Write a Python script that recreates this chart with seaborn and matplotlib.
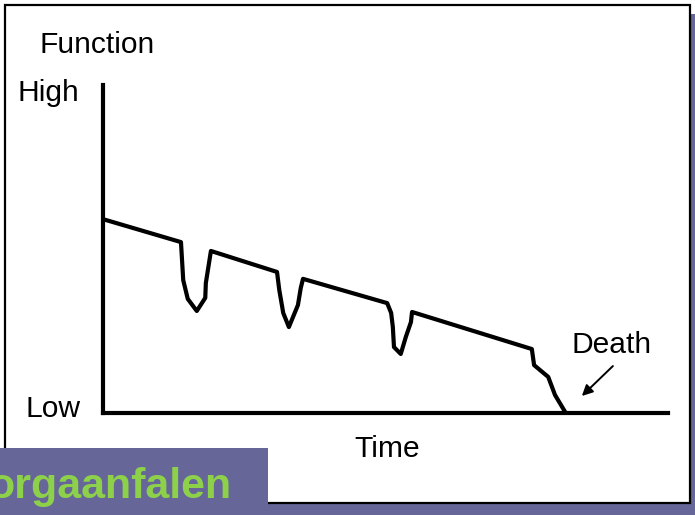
import matplotlib
matplotlib.use("Agg")
import matplotlib.pyplot as plt
import seaborn as sns
import pandas as pd
from matplotlib.patches import Rectangle

# ---- data (time, function level) ----
time = [0, 13.8, 14.2, 15.0, 16.6, 18.1, 18.2, 19.1,
        30.8, 31.2, 31.9, 32.9, 34.5, 35.0, 35.4,
        50.3, 51.0, 51.3, 51.5, 52.7, 53.6, 54.5, 54.7,
        75.9, 76.3, 78.8, 80.0, 81.8]
function = [59.1, 52.1, 40.5, 34.8, 31.1, 35.1, 39.6, 49.4,
            43.0, 37.5, 30.5, 26.2, 32.9, 38.1, 40.9,
            33.5, 30.5, 26.2, 20.1, 18.0, 23.2, 27.7, 30.8,
            19.5, 14.6, 11.0, 5.5, 0.3]
y_title = "Function"
y_high = "High"
y_low = "Low"
x_title = "Time"
death_label = "Death"
death_point = (84.4, 4.6)
banner_text = "orgaanfalen"

df = pd.DataFrame({"time": time, "function": function})

sns.set_theme(style="white")
plt.rcParams["font.family"] = ["Liberation Sans", "DejaVu Sans"]

W, H = 695, 515
fig = plt.figure(figsize=(W / 100, H / 100), dpi=100)
fig.patch.set_facecolor("white")

purple = "#666699"
green = "#8DD04A"

# background / frame axes in pixel coordinates
bg = fig.add_axes([0, 0, 1, 1])
bg.set_xlim(0, W)
bg.set_ylim(H, 0)
bg.axis("off")
bg.add_patch(Rectangle((10, 14), W - 10, H - 14, facecolor=purple, edgecolor="none", zorder=1))
bg.add_patch(Rectangle((5, 5), 685, 498, facecolor="white", edgecolor="black", linewidth=1.6, zorder=2))
bg.add_patch(Rectangle((0, 448), 268, H - 448, facecolor=purple, edgecolor="none", zorder=3))
bg.text(231, 498, banner_text, ha="right", va="baseline", fontsize=31, fontweight="bold",
        color=green, zorder=4)

bg.text(40, 53, y_title, ha="left", va="baseline", fontsize=21.6, color="black", zorder=4)
bg.text(17, 101, y_high, ha="left", va="baseline", fontsize=21.6, color="black", zorder=4)
bg.text(25, 417, y_low, ha="left", va="baseline", fontsize=21.6, color="black", zorder=4)
bg.text(387, 457, x_title, ha="center", va="baseline", fontsize=21.6, color="black", zorder=4)
bg.text(612, 353, death_label, ha="center", va="baseline", fontsize=21.6, color="black", zorder=4)

# data axes
left, right, top, bottom = 103, 668, 85, 413
ax = fig.add_axes([left / W, (H - bottom) / H, (right - left) / W, (bottom - top) / H])
ax.patch.set_alpha(0)
sns.lineplot(data=df, x="time", y="function", sort=False, color="black",
             linewidth=3.0, ax=ax, clip_on=False, estimator=None)
ax.set_xlim(0, 100)
ax.set_ylim(0, 100)
ax.set_xticks([])
ax.set_yticks([])
ax.set_xlabel("")
ax.set_ylabel("")
for s in ["top", "right"]:
    ax.spines[s].set_visible(False)
for s in ["left", "bottom"]:
    ax.spines[s].set_linewidth(3.0)
    ax.spines[s].set_color("black")

ax.annotate("", xy=death_point, xytext=(90.6, 14.9),
            arrowprops=dict(arrowstyle="-|>", color="black", lw=1.4, mutation_scale=16))

fig.savefig("out.png", dpi=100)
